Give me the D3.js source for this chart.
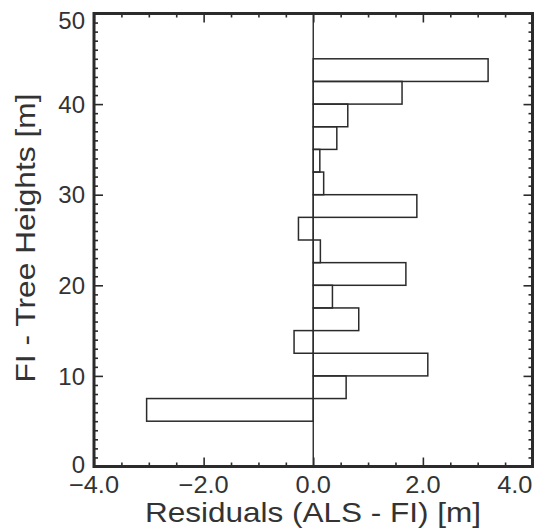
<!DOCTYPE html>
<html><head><meta charset="utf-8">
<script src="https://cdn.jsdelivr.net/npm/d3@7"></script>
<style>html,body{margin:0;padding:0;background:#fff;}svg{display:block;}</style>
</head><body>
<svg id="chart" width="545" height="531"></svg>
<script>
// Data
const binLower = [5, 7.5, 10, 12.5, 15, 17.5, 20, 22.5, 25, 27.5, 30, 32.5, 35, 37.5, 40, 42.5];
const residuals = [-3.04, 0.6, 2.09, -0.35, 0.83, 0.35, 1.69, 0.13, -0.27, 1.89, 0.19, 0.12, 0.43, 0.63, 1.62, 3.19];
const binWidth = 2.5;
const xTicks = [-4, -2, 0, 2, 4];
const yTicks = [0, 10, 20, 30, 40, 50];
const xLabel = "Residuals (ALS - FI) [m]";
const yLabel = "FI - Tree Heights [m]";

const L = 94, R = 532.5, T = 13.5, B = 466.5;
const svg = d3.select("#chart");
const x = d3.scaleLinear().domain([-4, 4]).range([L, R]);
const y = d3.scaleLinear().domain([0, 50]).range([B, T]);
const ink = "#2b2b2b";
const font = "Arial, 'Liberation Sans', sans-serif";

// zero line
svg.append("line").attr("x1", x(0)).attr("x2", x(0)).attr("y1", T).attr("y2", B)
  .attr("stroke", ink).attr("stroke-width", 1.4);

// bars
const data = binLower.map((b, i) => ({b, v: residuals[i]}));
svg.append("g").selectAll("rect").data(data).join("rect")
  .attr("x", d => x(Math.min(0, d.v)))
  .attr("width", d => Math.abs(x(d.v) - x(0)))
  .attr("y", d => y(d.b + binWidth))
  .attr("height", d => y(d.b) - y(d.b + binWidth))
  .attr("fill", "none").attr("stroke", ink).attr("stroke-width", 1.5);

// ticks (inward, mirrored)
function ticks(axisFn, vals, size, transform) {
  const g = svg.append("g").attr("transform", transform)
    .call(axisFn.tickValues(vals).tickSizeInner(size).tickSizeOuter(0).tickFormat(""));
  g.select(".domain").remove();
  g.selectAll(".tick line").attr("stroke", ink).attr("stroke-width", 1.6);
  g.selectAll("text").remove();
}
const xMinor = d3.range(-4, 4.01, 0.5).filter(v => Math.abs(v % 2) > 1e-6);
const yMinor = d3.range(0, 50.01, 1).filter(v => v % 10 !== 0);
ticks(d3.axisBottom(x), xTicks, -9, `translate(0,${B})`);
ticks(d3.axisBottom(x), xMinor, -4, `translate(0,${B})`);
ticks(d3.axisTop(x), xTicks, -9, `translate(0,${T})`);
ticks(d3.axisTop(x), xMinor, -4, `translate(0,${T})`);
ticks(d3.axisLeft(y), yTicks, -9, `translate(${L},0)`);
ticks(d3.axisLeft(y), yMinor, -4, `translate(${L},0)`);
ticks(d3.axisRight(y), yTicks, -9, `translate(${R},0)`);
ticks(d3.axisRight(y), yMinor, -4, `translate(${R},0)`);

// frame
svg.append("rect").attr("x", L).attr("y", T).attr("width", R - L).attr("height", B - T)
  .attr("fill", "none").attr("stroke", ink).attr("stroke-width", 3);

// tick labels
const xt = svg.append("g").selectAll("text").data(xTicks).join("text")
  .attr("x", d => Math.min(x(d), 543)).attr("y", 492.5)
  .attr("text-anchor", d => x(d) > 530 ? "end" : "middle")
  .attr("font-family", font).attr("font-size", 23.5).attr("fill", "#333")
  .text(d => d3.format(".1f")(d));
xt.each(function() {
  const w = this.getComputedTextLength();
  d3.select(this).attr("textLength", w * 1.08).attr("lengthAdjust", "spacingAndGlyphs");
});
svg.append("g").selectAll("text").data(yTicks).join("text")
  .attr("x", 85).attr("y", d => Math.min(Math.max(y(d), T + 6.5), B - 2.5))
  .attr("dy", "0.36em")
  .attr("text-anchor", "end").attr("font-family", font).attr("font-size", 24).attr("fill", "#333")
  .text(d => d);

// axis titles
svg.append("text").attr("x", 313).attr("y", 521.5).attr("text-anchor", "middle")
  .attr("font-family", font).attr("font-size", 28).attr("fill", "#333")
  .attr("textLength", 336).attr("lengthAdjust", "spacingAndGlyphs").text(xLabel);
svg.append("text").attr("transform", "translate(35,238) rotate(-90)").attr("text-anchor", "middle")
  .attr("font-family", font).attr("font-size", 28).attr("fill", "#333")
  .attr("textLength", 289).attr("lengthAdjust", "spacingAndGlyphs").text(yLabel);
</script>
</body></html>
